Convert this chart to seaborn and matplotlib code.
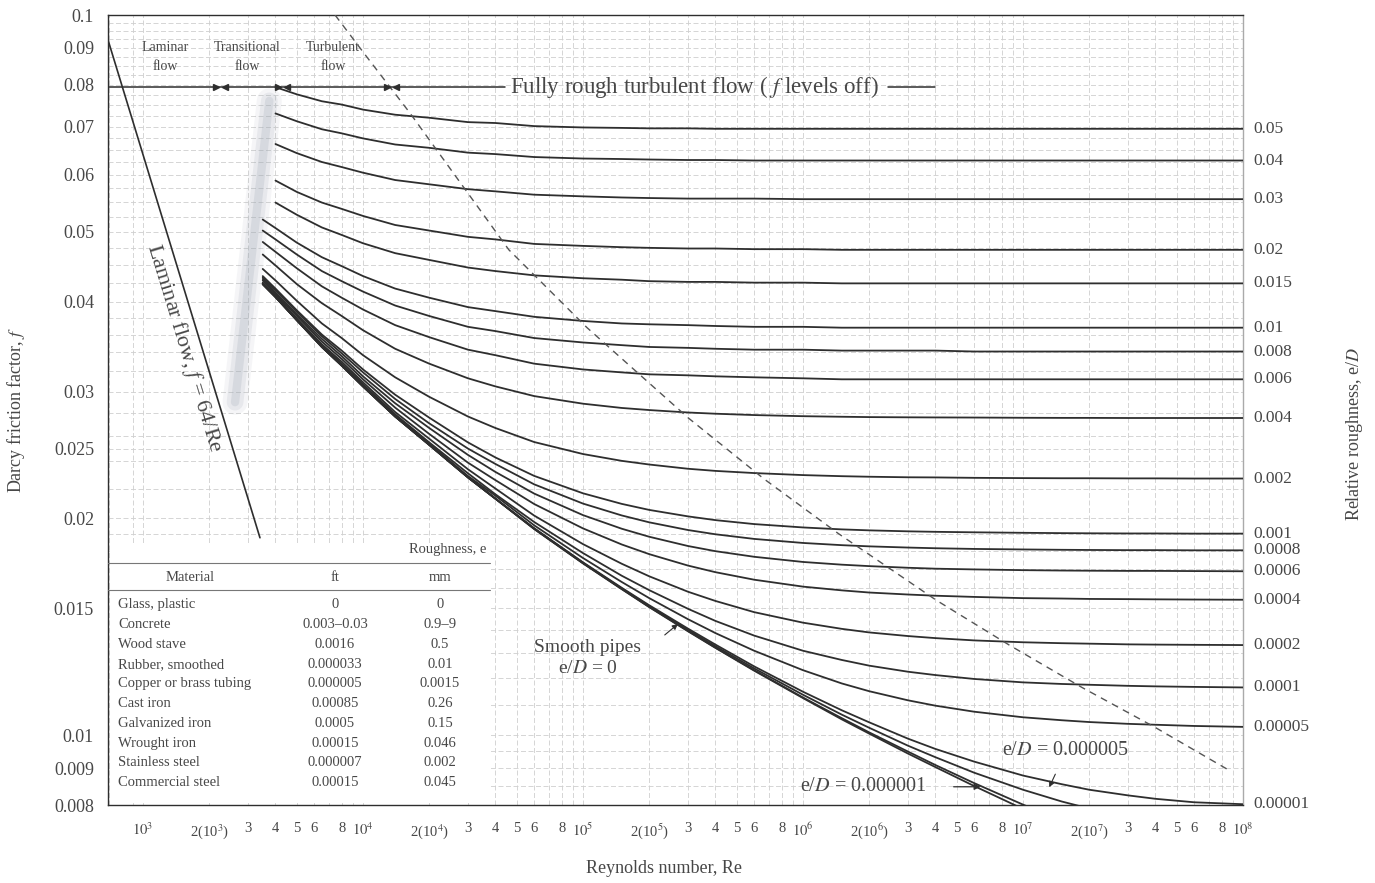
import matplotlib
matplotlib.use("Agg")
import numpy as np
import pandas as pd
import matplotlib.pyplot as plt
import matplotlib.transforms as mtransforms
from matplotlib.patches import Rectangle
from matplotlib.ticker import FixedLocator, NullFormatter
import seaborn as sns

# Reynolds numbers at which the curves were read
re_points = [3500, 4000, 5000, 6500, 8000, 1e4, 1.4e4, 2e4, 3e4, 4e4, 6e4, 1e5, 1.5e5, 2e5, 3e5,
             4e5, 6e5, 1e6, 1.5e6, 2e6, 3e6, 4e6, 6e6, 1e7, 1.5e7, 2e7, 3e7, 4e7, 6e7, 1e8]

# friction factor (None = curve not yet started)
f_050 = [None, 0.0794, 0.0776, 0.0759, 0.0751, 0.0739, 0.0727, 0.0720, 0.0710, 0.0708,
         0.0701, 0.0698, 0.0697, 0.0696, 0.0696, 0.0695, 0.0695, 0.0695, 0.0695, 0.0695,
         0.0695, 0.0695, 0.0695, 0.0695, 0.0695, 0.0695, 0.0695, 0.0695, 0.0695, 0.0695]
f_040 = [None, 0.0730, 0.0712, 0.0694, 0.0685, 0.0674, 0.0661, 0.0654, 0.0644, 0.0641,
         0.0635, 0.0632, 0.0631, 0.0630, 0.0629, 0.0629, 0.0628, 0.0628, 0.0628, 0.0628,
         0.0628, 0.0628, 0.0628, 0.0628, 0.0628, 0.0628, 0.0628, 0.0628, 0.0628, 0.0628]
f_030 = [None, 0.0662, 0.0643, 0.0625, 0.0615, 0.0604, 0.0590, 0.0582, 0.0573, 0.0569,
         0.0563, 0.0560, 0.0558, 0.0557, 0.0556, 0.0556, 0.0556, 0.0555, 0.0555, 0.0555,
         0.0555, 0.0555, 0.0555, 0.0555, 0.0555, 0.0555, 0.0555, 0.0555, 0.0555, 0.0555]
f_020 = [None, 0.0589, 0.0568, 0.0549, 0.0538, 0.0526, 0.0511, 0.0502, 0.0492, 0.0488,
         0.0481, 0.0478, 0.0476, 0.0475, 0.0474, 0.0474, 0.0473, 0.0473, 0.0472, 0.0472,
         0.0472, 0.0472, 0.0472, 0.0472, 0.0472, 0.0472, 0.0472, 0.0472, 0.0472, 0.0472]
f_015 = [None, 0.0549, 0.0528, 0.0507, 0.0495, 0.0482, 0.0467, 0.0457, 0.0446, 0.0441,
         0.0435, 0.0431, 0.0429, 0.0427, 0.0426, 0.0426, 0.0425, 0.0425, 0.0424, 0.0424,
         0.0424, 0.0424, 0.0424, 0.0424, 0.0424, 0.0424, 0.0424, 0.0424, 0.0424, 0.0424]
f_010 = [0.0520, 0.0506, 0.0483, 0.0461, 0.0448, 0.0434, 0.0417, 0.0405, 0.0393, 0.0388,
         0.0381, 0.0376, 0.0373, 0.0372, 0.0371, 0.0370, 0.0369, 0.0369, 0.0368, 0.0368,
         0.0368, 0.0368, 0.0368, 0.0368, 0.0368, 0.0368, 0.0368, 0.0368, 0.0368, 0.0368]
f_008 = [0.0502, 0.0488, 0.0465, 0.0441, 0.0427, 0.0413, 0.0395, 0.0382, 0.0369, 0.0364,
         0.0356, 0.0351, 0.0348, 0.0346, 0.0345, 0.0344, 0.0343, 0.0343, 0.0342, 0.0342,
         0.0342, 0.0342, 0.0341, 0.0341, 0.0341, 0.0341, 0.0341, 0.0341, 0.0341, 0.0341]
f_006 = [0.0484, 0.0469, 0.0445, 0.0420, 0.0405, 0.0390, 0.0371, 0.0357, 0.0343, 0.0337,
         0.0328, 0.0322, 0.0319, 0.0317, 0.0316, 0.0315, 0.0314, 0.0313, 0.0312, 0.0312,
         0.0312, 0.0312, 0.0312, 0.0312, 0.0312, 0.0312, 0.0312, 0.0312, 0.0312, 0.0312]
f_004 = [0.0465, 0.0449, 0.0423, 0.0398, 0.0382, 0.0365, 0.0344, 0.0328, 0.0313, 0.0305,
         0.02957, 0.02886, 0.02847, 0.02828, 0.02806, 0.02795, 0.02783, 0.02773, 0.02768, 0.02765,
         0.02763, 0.02762, 0.02761, 0.02759, 0.02758, 0.02758, 0.02757, 0.02757, 0.02757, 0.02757]
f_002 = [0.0444, 0.0428, 0.0401, 0.0373, 0.0356, 0.0337, 0.0314, 0.0295, 0.0277, 0.0267,
         0.02553, 0.02457, 0.02404, 0.02376, 0.02344, 0.02328, 0.02312, 0.02297, 0.02289, 0.02285,
         0.02281, 0.02280, 0.02277, 0.02275, 0.02274, 0.02274, 0.02273, 0.02273, 0.02272, 0.02272]
f_001 = [0.0434, 0.0417, 0.0389, 0.0360, 0.0342, 0.0322, 0.0297, 0.0276, 0.0255, 0.0243,
         0.02291, 0.02167, 0.02095, 0.02055, 0.02013, 0.01989, 0.01964, 0.01943, 0.01931, 0.01925,
         0.01919, 0.01916, 0.01913, 0.01910, 0.01908, 0.01907, 0.01906, 0.01906, 0.01905, 0.01905]
f_0008 = [0.0432, 0.0415, 0.0387, 0.0358, 0.0339, 0.0319, 0.0293, 0.0271, 0.0250, 0.0238,
          0.02230, 0.02097, 0.02019, 0.01975, 0.01927, 0.01901, 0.01873, 0.01849, 0.01836, 0.01829,
          0.01822, 0.01818, 0.01814, 0.01811, 0.01809, 0.01808, 0.01807, 0.01807, 0.01806, 0.01806]
f_0006 = [0.0430, 0.0412, 0.0384, 0.0355, 0.0336, 0.0315, 0.0289, 0.0267, 0.0245, 0.0232,
          0.02165, 0.02021, 0.01935, 0.01886, 0.01831, 0.01801, 0.01769, 0.01740, 0.01725, 0.01717,
          0.01708, 0.01703, 0.01699, 0.01695, 0.01693, 0.01692, 0.01691, 0.01691, 0.01690, 0.01689]
f_0004 = [0.0428, 0.0410, 0.0382, 0.0352, 0.0333, 0.0312, 0.0285, 0.0262, 0.0239, 0.0226,
          0.02094, 0.01937, 0.01840, 0.01784, 0.01720, 0.01684, 0.01644, 0.01608, 0.01589, 0.01578,
          0.01568, 0.01562, 0.01556, 0.01550, 0.01548, 0.01546, 0.01545, 0.01544, 0.01543, 0.01542]
f_0002 = [0.0425, 0.0408, 0.0379, 0.0349, 0.0330, 0.0309, 0.0281, 0.0258, 0.0234, 0.0220,
          0.02018, 0.01842, 0.01730, 0.01662, 0.01582, 0.01536, 0.01482, 0.01433, 0.01405, 0.01389,
          0.01373, 0.01364, 0.01354, 0.01346, 0.01342, 0.01340, 0.01337, 0.01336, 0.01335, 0.01334]
f_0001 = [0.0424, 0.0407, 0.0378, 0.0348, 0.0328, 0.0307, 0.0279, 0.0255, 0.0231, 0.0216,
          0.01977, 0.01790, 0.01665, 0.01590, 0.01498, 0.01441, 0.01375, 0.01310, 0.01272, 0.01249,
          0.01225, 0.01212, 0.01197, 0.01184, 0.01178, 0.01175, 0.01171, 0.01169, 0.01167, 0.01165]
f_00005 = [0.0424, 0.0406, 0.0377, 0.0347, 0.0327, 0.0306, 0.0278, 0.0254, 0.0229, 0.0215,
           0.01956, 0.01762, 0.01632, 0.01550, 0.01449, 0.01386, 0.01310, 0.01231, 0.01180, 0.01151,
           0.01118, 0.01099, 0.01078, 0.01059, 0.01049, 0.01043, 0.01037, 0.01034, 0.01030, 0.01027]
f_00001 = [0.0423, 0.0406, 0.0377, 0.0346, 0.0326, 0.0305, 0.0277, 0.0253, 0.0228, 0.0213,
           0.01938, 0.01738, 0.01602, 0.01515, 0.01406, 0.01336, 0.01246, 0.01149, 0.01083, 0.01042,
           0.00989, 0.00957, 0.00919, 0.00879, 0.00855, 0.00840, 0.00825, 0.00816, 0.00807, 0.00802]
f_000005 = [0.0423, 0.0406, 0.0377, 0.0346, 0.0326, 0.0305, 0.0277, 0.0253, 0.0228, 0.0213,
            0.01936, 0.01735, 0.01599, 0.01511, 0.01400, 0.01329, 0.01238, 0.01138, 0.01068, 0.01024,
            0.00967, 0.00932, 0.00887, 0.00840, 0.00809, 0.00791, 0.00769, 0.00757, 0.00742, 0.00729]
f_000001 = [0.0423, 0.0406, 0.0377, 0.0346, 0.0326, 0.0305, 0.0277, 0.0253, 0.0228, 0.0213,
            0.01934, 0.01733, 0.01596, 0.01507, 0.01396, 0.01323, 0.01231, 0.01128, 0.01056, 0.01009,
            0.00949, 0.00909, 0.00858, 0.00801, 0.00761, 0.00735, 0.00703, 0.00683, 0.00658, 0.00631]
f_smooth = [0.0423, 0.0406, 0.0377, 0.0346, 0.0326, 0.0305, 0.0277, 0.0253, 0.0228, 0.0213,
            0.01933, 0.01732, 0.01595, 0.01506, 0.01394, 0.01322, 0.01229, 0.01126, 0.01052, 0.01005,
            0.00943, 0.00903, 0.00850, 0.00790, 0.00747, 0.00718, 0.00680, 0.00656, 0.00623, 0.00585]

rough_labels = ["0.05", "0.04", "0.03", "0.02", "0.015", "0.01", "0.008", "0.006", "0.004",
                "0.002", "0.001", "0.0008", "0.0006", "0.0004", "0.0002", "0.0001", "0.00005",
                "0.00001", "0.000005", "0.000001", "0"]
curves = [f_050, f_040, f_030, f_020, f_015, f_010, f_008, f_006, f_004, f_002, f_001,
          f_0008, f_0006, f_0004, f_0002, f_0001, f_00005, f_00001, f_000005, f_000001, f_smooth]
right_labels = ["0.05", "0.04", "0.03", "0.02", "0.015", "0.01", "0.008", "0.006", "0.004",
                "0.002", "0.001", "0.0008", "0.0006", "0.0004", "0.0002", "0.0001", "0.00005",
                "0.00001"]

# laminar line f = 64/Re
lam_re = [640, 3400]
lam_f = [0.1, 0.0188]

# dashed limit of the fully rough zone
dash_re = [7460, 10420, 16340, 46020, 104300, 301200, 663500, 1.449e6, 4.03e6, 8.66e6,
           1.853e7, 3.95e7, 8.75e7]
dash_f = [0.1, 0.0874, 0.0731, 0.0472, 0.0368, 0.02757, 0.0227, 0.01905, 0.0154, 0.01334,
          0.01165, 0.01027, 0.00892]

# flow regime boundaries on the top line
regime_bounds = [2250, 4300, 13500]
top_line_f = 0.0795

y_ticks = [0.1, 0.09, 0.08, 0.07, 0.06, 0.05, 0.04, 0.03, 0.025, 0.02, 0.015, 0.01, 0.009, 0.008]
y_tick_labels = ["0.1", "0.09", "0.08", "0.07", "0.06", "0.05", "0.04", "0.03", "0.025",
                 "0.02", "0.015", "0.01", "0.009", "0.008"]

materials = ["Glass, plastic", "Concrete", "Wood stave", "Rubber, smoothed",
             "Copper or brass tubing", "Cast iron", "Galvanized iron", "Wrought iron",
             "Stainless steel", "Commercial steel"]
rough_ft = ["0", "0.003\u20130.03", "0.0016", "0.000033", "0.000005", "0.00085",
            "0.0005", "0.00015", "0.000007", "0.00015"]
rough_mm = ["0", "0.9\u20139", "0.5", "0.01", "0.0015", "0.26", "0.15", "0.046", "0.002", "0.045"]

sns.set_theme(style="white")
plt.rcParams["font.family"] = ["Liberation Serif", "DejaVu Serif"]
plt.rcParams["mathtext.fontset"] = "stix"

ink = "#2e2e2e"
txt = "#474747"

fig = plt.figure(figsize=(13.75, 8.83), dpi=100)
ax = fig.add_axes([108 / 1375, 1 - 805 / 883, 1135 / 1375, 790 / 883])

rows = []
for lab, vals in zip(rough_labels, curves):
    for r, f in zip(re_points, vals):
        if f is not None:
            rows.append((lab, r, f))
df = pd.DataFrame(rows, columns=["eD", "Re", "f"])

sns.lineplot(data=df, x="Re", y="f", hue="eD", hue_order=rough_labels,
             palette=[ink] * len(rough_labels), legend=False, linewidth=1.3,
             estimator=None, sort=False, ax=ax, zorder=4)
sns.lineplot(x=lam_re, y=lam_f, color=ink, linewidth=1.2, ax=ax, zorder=4)
sns.lineplot(x=dash_re, y=dash_f, color="#555555", linewidth=1.0, linestyle=(0, (5, 4)),
             ax=ax, zorder=4)

ax.set_xscale("log")
ax.set_yscale("log")
ax.set_xlim(693, 1e8)
ax.set_ylim(0.008, 0.1)

# smudge in the transitional zone
for lw, a in [(18, 0.10), (12, 0.16), (6, 0.22)]:
    ax.plot([3750, 2620], [0.076, 0.0290], color="#9ea6b4", linewidth=lw, alpha=a,
            solid_capstyle="round", zorder=2)

# fully rough line with text break
ax.plot([693, 44200], [top_line_f, top_line_f], color=ink, linewidth=1.1, zorder=4)
ax.plot([2.44e6, 3.98e6], [top_line_f, top_line_f], color=ink, linewidth=1.1, zorder=4)
ax.text(46500, top_line_f, "Fully rough turbulent flow ( $f$ levels off)", fontsize=16.5,
        color=txt, va="center", ha="left", zorder=5)
for b in regime_bounds:
    ax.plot([b * 0.955], [top_line_f], marker=">", markersize=4, color=ink, zorder=5)
    ax.plot([b * 1.045], [top_line_f], marker="<", markersize=4, color=ink, zorder=5)

ax.text(1259, 0.0875, "Laminar\nflow", fontsize=10, color=txt, ha="center", va="center",
        linespacing=1.6)
ax.text(2970, 0.0875, "Transitional\nflow", fontsize=10, color=txt, ha="center", va="center",
        linespacing=1.6)
ax.text(7310, 0.0875, "Turbulent\nflow", fontsize=10, color=txt, ha="center", va="center",
        linespacing=1.6)

ax.text(1540, 0.0345, "Laminar flow, $f$ = 64/Re", fontsize=16, color=txt, rotation=-73,
        ha="center", va="center", rotation_mode="anchor")

ax.text(1.05e5, 0.0128, "Smooth pipes\ne/$D$ = 0", fontsize=14, color=txt, ha="center",
        va="center", linespacing=1.3)
ax.annotate("", xy=(2.76e5, 0.01435), xytext=(2.3e5, 0.0137),
            arrowprops=dict(arrowstyle="-|>", color=ink, lw=0.8, mutation_scale=8))
ax.text(9.7e5, 0.00848, "e/$D$ = 0.000001", fontsize=14.5, color=txt, ha="left", va="center")
ax.annotate("", xy=(6.6e6, 0.00848), xytext=(4.7e6, 0.00848),
            arrowprops=dict(arrowstyle="-|>", color=ink, lw=0.9, mutation_scale=9))
ax.text(8.0e6, 0.00953, "e/$D$ = 0.000005", fontsize=14.5, color=txt, ha="left", va="center")
ax.annotate("", xy=(1.3e7, 0.0084), xytext=(1.42e7, 0.0089),
            arrowprops=dict(arrowstyle="-|>", color=ink, lw=0.8, mutation_scale=8))

# right-hand roughness labels at curve ends
trans = mtransforms.blended_transform_factory(ax.transAxes, ax.transData)
for lab, vals in zip(rough_labels, curves):
    if lab in right_labels:
        ax.text(1.009, vals[-1], lab, transform=trans, fontsize=12.5, color=txt,
                ha="left", va="center")

# ticks
decades = [3, 4, 5, 6, 7]
mults = [1, 2, 3, 4, 5, 6, 8]
x_ticks = [m * 10.0 ** d for d in decades for m in mults] + [1e8]
x_tick_labels = []
for d in decades:
    for m in mults:
        if m == 1:
            x_tick_labels.append(r"$10^{%d}$" % d)
        elif m == 2:
            x_tick_labels.append(r"2(10$^{%d}$)" % d)
        else:
            x_tick_labels.append(str(m))
x_tick_labels.append(r"$10^{8}$")

ax.xaxis.set_major_locator(FixedLocator(x_ticks))
ax.set_xticklabels(x_tick_labels)
ax.xaxis.set_minor_locator(FixedLocator([m * 10.0 ** d for d in [2, 3, 4, 5, 6, 7] for m in [7, 9]]))
ax.xaxis.set_minor_formatter(NullFormatter())
ax.yaxis.set_major_locator(FixedLocator(y_ticks))
ax.set_yticklabels(y_tick_labels)
y_grid = (list(np.arange(0.0085, 0.01, 0.0005)) + list(np.arange(0.011, 0.02, 0.001)) +
          list(np.arange(0.022, 0.04, 0.002)) + list(np.arange(0.0425, 0.1, 0.0025)))
ax.yaxis.set_minor_locator(FixedLocator(y_grid))
ax.yaxis.set_minor_formatter(NullFormatter())
ax.tick_params(axis="x", which="major", length=0, pad=12, labelsize=10.5, labelcolor=txt)
ax.tick_params(axis="y", which="major", length=4, width=0.8, color=ink, pad=6,
               labelsize=13, labelcolor=txt, direction="out")
ax.tick_params(which="minor", length=0)
ax.grid(which="both", color="#cfcfcf", linewidth=0.6, linestyle=(0, (6, 3)), zorder=0)
ax.set_axisbelow(True)
for side, sp in ax.spines.items():
    sp.set_color(ink if side in ("left", "bottom", "top") else "#aaaaaa")
    sp.set_linewidth(1.0)
ax.set_xlabel("")
ax.set_ylabel("")

ax.text(0.49, -0.08, "Reynolds number, Re", transform=ax.transAxes, fontsize=13,
        color=txt, ha="center", va="center")
ax.text(-0.081, 0.5, "Darcy friction factor, $f$", transform=ax.transAxes, fontsize=13,
        color=txt, ha="center", va="center", rotation=90)
ax.text(1.098, 0.47, "Relative roughness, e/$D$", transform=ax.transAxes, fontsize=13,
        color=txt, ha="center", va="center", rotation=90)

# roughness table
ax.add_patch(Rectangle((0.002, 0.002), 0.335, 0.33, transform=ax.transAxes,
                       facecolor="white", edgecolor="none", zorder=3))
ax.text(0.333, 0.3228, "Roughness, e", transform=ax.transAxes, fontsize=10.5, color=txt,
        ha="right", va="center", zorder=5)
ax.plot([0.0, 0.337], [0.306, 0.306], transform=ax.transAxes, color="#777777",
        linewidth=0.8, zorder=5)
ax.text(0.0722, 0.2886, "Material", transform=ax.transAxes, fontsize=10.5, color=txt,
        ha="center", va="center", zorder=5)
ax.text(0.200, 0.2886, "ft", transform=ax.transAxes, fontsize=10.5, color=txt,
        ha="center", va="center", zorder=5)
ax.text(0.2925, 0.2886, "mm", transform=ax.transAxes, fontsize=10.5, color=txt,
        ha="center", va="center", zorder=5)
ax.plot([0.0, 0.337], [0.272, 0.272], transform=ax.transAxes, color="#777777",
        linewidth=0.8, zorder=5)
for i, (mat, ft, mm) in enumerate(zip(materials, rough_ft, rough_mm)):
    yy = 0.2532 - i * 0.025
    ax.text(0.0088, yy, mat, transform=ax.transAxes, fontsize=10.5, color=txt,
            ha="left", va="center", zorder=5)
    ax.text(0.200, yy, ft, transform=ax.transAxes, fontsize=10.5, color=txt,
            ha="center", va="center", zorder=5)
    ax.text(0.2925, yy, mm, transform=ax.transAxes, fontsize=10.5, color=txt,
            ha="center", va="center", zorder=5)

fig.savefig("out.png", dpi=100, facecolor="white")
